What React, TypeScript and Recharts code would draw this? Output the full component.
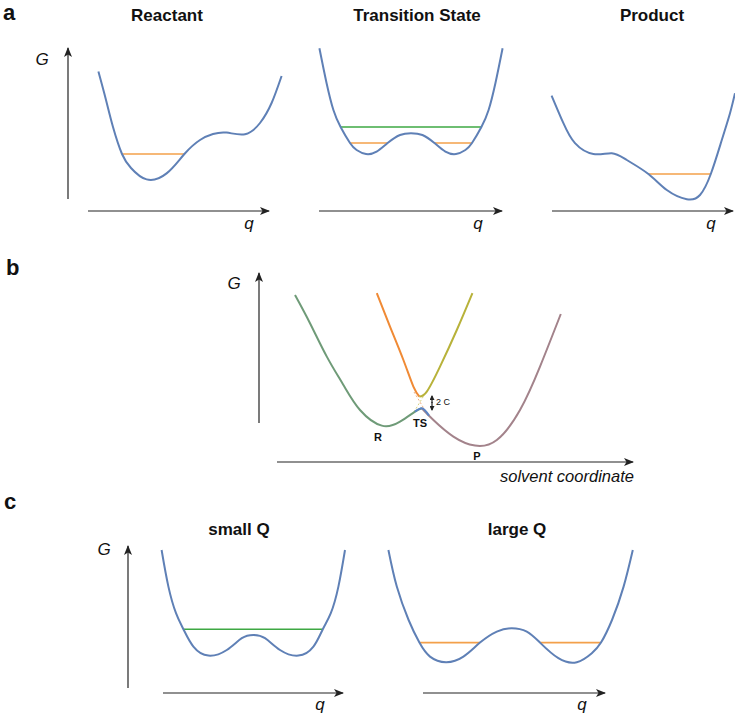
import React from 'react'
import { LineChart, Line, XAxis, YAxis, ReferenceLine } from 'recharts'

// every value is (q, G), 1 unit = 20px, origin at each panel's axes

// a: reactant
const reactantCurve = [
  { q: 1.52, G: 6.97 }, { q: 1.9, G: 5.55 }, { q: 2.25, G: 4.2 }, { q: 2.7, G: 2.85 },
  { q: 3.15, G: 2.15 }, { q: 3.93, G: 1.58 }, { q: 4.93, G: 1.88 }, { q: 5.82, G: 2.85 },
  { q: 6.6, G: 3.55 }, { q: 7.25, G: 3.85 }, { q: 7.93, G: 3.92 }, { q: 8.85, G: 3.84 },
  { q: 9.6, G: 4.4 }, { q: 10.18, G: 5.4 }, { q: 10.68, G: 6.75 },
]
const reactantLevel = [{ q: 2.7, G: 2.85 }, { q: 5.82, G: 2.85 }]

// a: transition state
const tsCurve = [
  { q: 0.02, G: 8.14 }, { q: 0.38, G: 6.39 }, { q: 0.72, G: 5.05 }, { q: 1.08, G: 4.2 },
  { q: 1.55, G: 3.4 }, { q: 1.88, G: 3.05 }, { q: 2.35, G: 2.85 }, { q: 2.88, G: 2.97 },
  { q: 3.43, G: 3.4 }, { q: 4.05, G: 3.8 }, { q: 4.6, G: 3.89 }, { q: 5.17, G: 3.8 },
  { q: 5.77, G: 3.4 }, { q: 6.32, G: 2.97 }, { q: 6.85, G: 2.85 }, { q: 7.32, G: 3.05 },
  { q: 7.65, G: 3.4 }, { q: 8.12, G: 4.2 }, { q: 8.48, G: 5.05 }, { q: 8.82, G: 6.39 },
  { q: 9.18, G: 8.14 },
]
const tsUpperLevel = [{ q: 1.08, G: 4.2 }, { q: 8.12, G: 4.2 }]
const tsLevelLeft = [{ q: 1.55, G: 3.4 }, { q: 3.43, G: 3.4 }]
const tsLevelRight = [{ q: 5.77, G: 3.4 }, { q: 7.65, G: 3.4 }]

// a: product
const productCurve = [
  { q: -0.02, G: 5.77 }, { q: 0.57, G: 4.39 }, { q: 1.15, G: 3.39 }, { q: 2.07, G: 2.85 },
  { q: 2.99, G: 2.89 }, { q: 3.74, G: 2.55 }, { q: 4.82, G: 1.85 }, { q: 5.74, G: 1.05 },
  { q: 6.74, G: 0.59 }, { q: 7.4, G: 0.8 }, { q: 7.94, G: 1.85 }, { q: 8.49, G: 3.55 },
  { q: 8.9, G: 4.89 }, { q: 9.15, G: 5.89 },
]
const productLevel = [{ q: 4.82, G: 1.85 }, { q: 7.94, G: 1.85 }]

// b: solvent coordinate surfaces
const bReactant = [
  { q: 1.8, G: 8.35 }, { q: 2.55, G: 6.94 }, { q: 3.39, G: 5.27 }, { q: 4.22, G: 3.85 },
  { q: 5.05, G: 2.6 }, { q: 6.14, G: 1.82 }, { q: 7.05, G: 2.02 }, { q: 7.8, G: 2.52 },
  { q: 8.14, G: 2.69 },
]
const bProduct = [
  { q: 8.14, G: 2.69 }, { q: 8.72, G: 2.1 }, { q: 9.72, G: 1.27 }, { q: 10.8, G: 0.82 },
  { q: 11.89, G: 1.1 }, { q: 13.05, G: 2.6 }, { q: 14.05, G: 4.77 }, { q: 15.09, G: 7.4 },
]
const bUpperLeft = [
  { q: 5.89, G: 8.44 }, { q: 6.55, G: 6.77 }, { q: 7.22, G: 5.1 }, { q: 7.72, G: 3.77 },
  { q: 8.02, G: 3.27 },
]
const bUpperRight = [
  { q: 8.02, G: 3.27 }, { q: 8.39, G: 3.52 }, { q: 9.05, G: 4.77 }, { q: 9.89, G: 6.6 },
  { q: 10.67, G: 8.44 },
]
const bTSCap = [{ q: 7.8, G: 2.52 }, { q: 8.14, G: 2.69 }, { q: 8.5, G: 2.32 }]
const bCrossR = [{ q: 7.75, G: 2.5 }, { q: 8.35, G: 3.5 }]
const bCrossP = [{ q: 7.75, G: 3.5 }, { q: 8.35, G: 2.5 }]

// c: small Q / large Q
const smallQCurve = [
  { q: 1.68, G: 7.15 }, { q: 2.02, G: 5.32 }, { q: 2.4, G: 3.99 }, { q: 2.77, G: 3.19 },
  { q: 3.27, G: 2.32 }, { q: 4.02, G: 1.87 }, { q: 4.94, G: 2.15 }, { q: 5.69, G: 2.74 },
  { q: 6.27, G: 2.9 }, { q: 6.85, G: 2.74 }, { q: 7.6, G: 2.15 }, { q: 8.52, G: 1.87 },
  { q: 9.27, G: 2.32 }, { q: 9.74, G: 3.19 }, { q: 10.14, G: 3.99 }, { q: 10.52, G: 5.32 },
  { q: 10.85, G: 7.15 },
]
const smallQLevel = [{ q: 2.77, G: 3.19 }, { q: 9.74, G: 3.19 }]
const largeQCurve = [
  { q: 0.27, G: 7.15 }, { q: 0.69, G: 5.32 }, { q: 1.28, G: 3.65 }, { q: 1.82, G: 2.52 },
  { q: 2.35, G: 1.82 }, { q: 3.15, G: 1.54 }, { q: 4.02, G: 1.82 }, { q: 4.85, G: 2.52 },
  { q: 5.69, G: 3.07 }, { q: 6.44, G: 3.24 }, { q: 7.19, G: 3.07 }, { q: 7.85, G: 2.52 },
  { q: 8.77, G: 1.74 }, { q: 9.69, G: 1.54 }, { q: 10.44, G: 1.99 }, { q: 10.9, G: 2.52 },
  { q: 11.45, G: 3.65 }, { q: 12.03, G: 5.32 }, { q: 12.49, G: 7.15 },
]
const largeQLevelLeft = [{ q: 1.82, G: 2.52 }, { q: 4.85, G: 2.52 }]
const largeQLevelRight = [{ q: 7.85, G: 2.52 }, { q: 10.9, G: 2.52 }]

const S = 20
const FONT = '"Liberation Sans", Arial, sans-serif'
const BLUE = '#5f80b6'
const ORANGE = '#f3a04a'
const GREEN = '#3ea843'
const AXIS = '#222'

function Panel({ left, top, width, height, ox, oy, children }: any) {
  return (
    <div style={{ position: 'absolute', left, top }}>
      <LineChart width={width} height={height} margin={{ top: 0, right: 0, bottom: 0, left: 0 }}>
        <XAxis type="number" dataKey="q" hide allowDataOverflow
          domain={[(left - ox) / S, (left + width - ox) / S]} />
        <YAxis type="number" dataKey="G" hide allowDataOverflow
          domain={[(oy - top - height) / S, (oy - top) / S]} />
        {children}
      </LineChart>
    </div>
  )
}

const curve = (data: any, color: string, key: string, w = 2, dash?: string, kind: any = 'natural') => (
  <Line key={key} data={data} dataKey="G" type={kind} stroke={color} strokeWidth={w}
    strokeDasharray={dash} dot={false} activeDot={false} isAnimationActive={false} />
)
const level = (data: any, color: string, key: string) => (
  <Line key={key} data={data} dataKey="G" type="linear" stroke={color} strokeWidth={1.6}
    dot={false} activeDot={false} isAnimationActive={false} />
)
const arrow = (x1: number, y1: number, x2: number, y2: number, key: string, head = 'url(#ah)') => (
  <ReferenceLine key={key} segment={[{ x: x1, y: y1 }, { x: x2, y: y2 }]} stroke={AXIS}
    strokeWidth={1.2} ifOverflow="visible" markerEnd={head} />
)

function Txt({ x, y, size, bold, italic, align = 'center', children }: any) {
  const tx = align === 'center' ? '-50%' : align === 'right' ? '-100%' : '0'
  return (
    <div style={{
      position: 'absolute', left: x, top: y - 0.8465 * size, fontSize: size, lineHeight: 1,
      fontFamily: FONT, fontWeight: bold ? 700 : 400, fontStyle: italic ? 'italic' : 'normal',
      transform: `translateX(${tx})`, whiteSpace: 'nowrap', color: '#111',
    }}>{children}</div>
  )
}

export default function App() {
  return (
    <div style={{ position: 'absolute', left: 0, top: 0, width: 735, height: 715, background: '#fff', overflow: 'hidden' }}>
      <svg width={0} height={0} style={{ position: 'absolute' }}>
        <defs>
          <marker id="ah" markerUnits="userSpaceOnUse" markerWidth={10} markerHeight={8}
            refX={9} refY={4} orient="auto-start-reverse">
            <path d="M0,0 L10,4 L0,8 L2.5,4 z" fill={AXIS} />
          </marker>
          <marker id="ahs" markerUnits="userSpaceOnUse" markerWidth={5} markerHeight={5}
            refX={4} refY={2.5} orient="auto-start-reverse">
            <path d="M0,0 L5,2.5 L0,5 z" fill={AXIS} />
          </marker>
        </defs>
      </svg>

      {/* a */}
      <Panel left={50} top={30} width={240} height={200} ox={68} oy={211}>
        {arrow(0, 0.6, 0, 8.15, 'ya')}
        {arrow(1, 0, 10.05, 0, 'xa')}
        {level(reactantLevel, ORANGE, 'l1')}
        {curve(reactantCurve, BLUE, 'c1')}
      </Panel>
      <Panel left={300} top={30} width={215} height={200} ox={319} oy={211}>
        {arrow(0, 0, 9.15, 0, 'xa')}
        {level(tsUpperLevel, GREEN, 'l1')}
        {level(tsLevelLeft, ORANGE, 'l2')}
        {level(tsLevelRight, ORANGE, 'l3')}
        {curve(tsCurve, BLUE, 'c1')}
      </Panel>
      <Panel left={540} top={30} width={195} height={200} ox={552} oy={211}>
        {arrow(0, 0, 9.05, 0, 'xa')}
        {level(productLevel, ORANGE, 'l1')}
        {curve(productCurve, BLUE, 'c1')}
      </Panel>

      {/* b */}
      <Panel left={250} top={265} width={400} height={210} ox={259} oy={462}>
        {arrow(0, 1.95, 0, 9.45, 'ya')}
        {arrow(0.9, 0, 18.7, 0, 'xa')}
        {curve(bCrossR, '#d8d080', 'd1', 1, '2 2', 'linear')}
        {curve(bCrossP, '#f0b080', 'd2', 1, '2 2', 'linear')}
        {curve(bReactant, '#6f9b78', 'c1')}
        {curve(bProduct, '#a3838b', 'c2')}
        {curve(bUpperLeft, '#f08a35', 'c3')}
        {curve(bUpperRight, '#b8b23a', 'c4')}
        {curve(bTSCap, '#5b84c4', 'c5', 2, undefined, 'monotone')}
        {arrow(8.65, 2.95, 8.65, 3.3, 'gap1', 'url(#ahs)')}
        {arrow(8.65, 3.0, 8.65, 2.6, 'gap2', 'url(#ahs)')}
      </Panel>

      {/* c */}
      <Panel left={110} top={540} width={245} height={165} ox={128} oy={693}>
        {arrow(0, 0.25, 0, 7.35, 'ya')}
        {arrow(1.75, 0, 10.75, 0, 'xa')}
        {level(smallQLevel, GREEN, 'l1')}
        {curve(smallQCurve, BLUE, 'c1')}
      </Panel>
      <Panel left={375} top={540} width={270} height={165} ox={383} oy={693}>
        {arrow(2.0, 0, 11.1, 0, 'xa')}
        {level(largeQLevelLeft, ORANGE, 'l1')}
        {level(largeQLevelRight, ORANGE, 'l2')}
        {curve(largeQCurve, BLUE, 'c1')}
      </Panel>

      <Txt x={3} y={21} size={22} bold align="left">a</Txt>
      <Txt x={6} y={276} size={22} bold align="left">b</Txt>
      <Txt x={4} y={510} size={22} bold align="left">c</Txt>

      <Txt x={167} y={21} size={17} bold>Reactant</Txt>
      <Txt x={417} y={21} size={17} bold>Transition State</Txt>
      <Txt x={652} y={21} size={17} bold>Product</Txt>
      <Txt x={239} y={535} size={17} bold>small Q</Txt>
      <Txt x={517} y={535} size={17} bold>large Q</Txt>

      <Txt x={42} y={65} size={17} italic>G</Txt>
      <Txt x={234} y={289} size={17} italic>G</Txt>
      <Txt x={104} y={555} size={17} italic>G</Txt>

      <Txt x={249} y={229} size={17} italic>q</Txt>
      <Txt x={478} y={229} size={17} italic>q</Txt>
      <Txt x={711} y={229} size={17} italic>q</Txt>
      <Txt x={320} y={710} size={17} italic>q</Txt>
      <Txt x={582} y={710} size={17} italic>q</Txt>

      <Txt x={500} y={482} size={16.5} italic align="left">solvent coordinate</Txt>
      <Txt x={378} y={441} size={11} bold>R</Txt>
      <Txt x={420} y={427} size={11} bold>TS</Txt>
      <Txt x={477} y={460} size={11} bold>P</Txt>
      <Txt x={436} y={406} size={9} align="left">2 C</Txt>
    </div>
  )
}
